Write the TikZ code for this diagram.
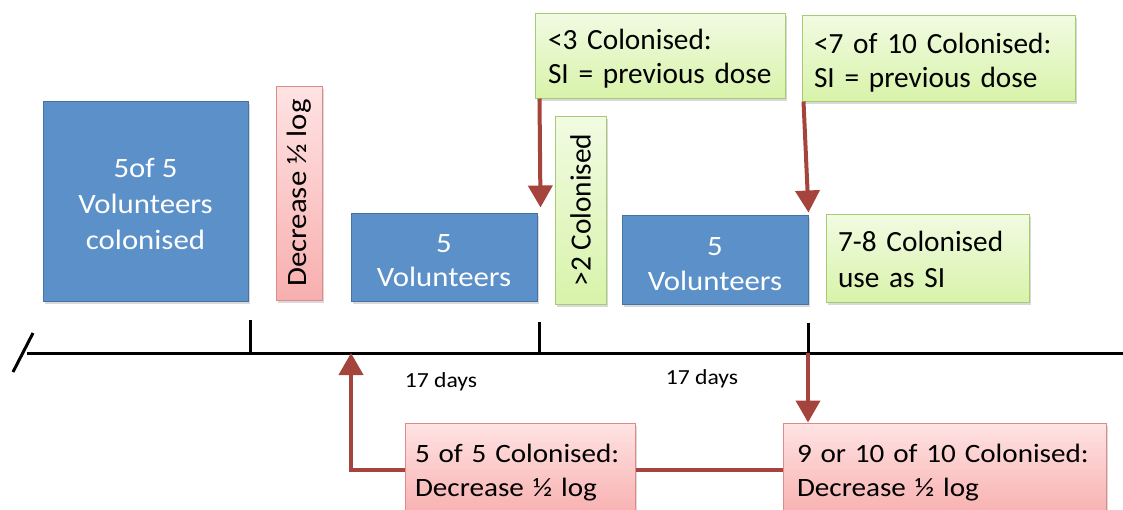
\documentclass[tikz,border=0pt]{standalone}
\usepackage{fontspec}
\setmainfont{Carlito}
\newfontfamily\widesans{Carlito}[FakeStretch=1.1]
\usetikzlibrary{arrows.meta,shadows,calc}

\definecolor{volblue}{HTML}{5B90C8}
\definecolor{volblueline}{HTML}{4673A6}
\definecolor{decred}{HTML}{F8AFAF}
\definecolor{decredtop}{HTML}{FFE3E3}
\definecolor{decredline}{HTML}{DE8A8A}
\definecolor{sigreen}{HTML}{D8F3AA}
\definecolor{sigreentop}{HTML}{F1FBE2}
\definecolor{sigreenline}{HTML}{A6CB75}
\definecolor{flow}{HTML}{A5443C}

% stacked lines, pushed down inside their box by half of #1
\newcommand{\boxlines}[3]{%
  \raisebox{0pt}[\dimexpr\height+#1\relax][\depth]{%
    \begin{tabular}{@{}#2@{}}#3\end{tabular}}}

\tikzset{
  softshadow/.style={drop shadow={shadow xshift=1.5pt,shadow yshift=-2.5pt,opacity=0.25,fill=black!60}},
  volbox/.style={draw=volblueline,line width=1pt,fill=volblue,text=white,
    font=\widesans\fontsize{28}{34}\selectfont,inner sep=0pt,softshadow},
  redbox/.style={draw=decredline,line width=1pt,top color=decredtop,bottom color=decred,
    font=\widesans\fontsize{26.5}{34}\selectfont,inner sep=0pt,softshadow},
  greenbox/.style={draw=sigreenline,line width=1pt,top color=sigreentop,bottom color=sigreen,
    font=\fontsize{29.3}{34}\selectfont,inner sep=0pt,softshadow},
  noteleft/.style={align=left,text width=#1},
  axis/.style={line width=3pt,black},
  tick/.style={line width=3pt,black},
  flowline/.style={draw=flow,line width=4pt},
  flowarrow/.style={flowline,-{Triangle[width=24pt,length=22pt]}},
  dayslabel/.style={font=\widesans\fontsize{21.5}{24}\selectfont,inner sep=0pt}
}

\begin{document}
\begin{tikzpicture}[x=1pt,y=-1pt]
  \useasboundingbox (0,0) rectangle (1123,509);
  \clip (0,0) rectangle (1123,509);

  % volunteer groups
  \node[volbox,minimum width=205pt,minimum height=200pt,
        font=\widesans\fontsize{28}{36}\selectfont] (v1) at (145.5,201)
    {\boxlines{11pt}{c}{5of 5\\Volunteers\\colonised}};
  \node[volbox,minimum width=186pt,minimum height=88pt] (v2) at (444,257)
    {\boxlines{10.4pt}{c}{5\\Volunteers}};
  \node[volbox,minimum width=186pt,minimum height=89pt,
        font=\widesans\fontsize{28}{35}\selectfont] (v3) at (715,259.5)
    {\boxlines{12pt}{c}{5\\Volunteers}};

  % vertical dose notes
  \node[redbox,rotate=90,minimum width=214pt,minimum height=46pt,
        font=\widesans\fontsize{28}{34}\selectfont] (dec) at (299,193)
    {Decrease ½ log};
  \node[greenbox,rotate=90,minimum width=188pt,minimum height=51pt] (gt2) at (580.5,210)
    {>2 Colonised};

  % challenge-dose rules
  \node[greenbox,minimum width=250pt,minimum height=85pt,noteleft=224pt] (lt3) at (660,55.5)
    {\boxlines{7.4pt}{l}{<3 Colonised:\\SI = previous dose}};
  \node[greenbox,minimum width=273pt,minimum height=86pt,noteleft=249pt] (lt7) at (938.5,58)
    {\boxlines{10.4pt}{l}{<7 of 10 Colonised:\\SI = previous dose}};
  \node[greenbox,minimum width=203pt,minimum height=88pt,noteleft=179pt,
        font=\fontsize{29.3}{35.6}\selectfont] (use) at (927.5,258)
    {\boxlines{9pt}{l}{7-8 Colonised\\use as SI}};

  \node[redbox,minimum width=230pt,minimum height=94pt,noteleft=210pt] (r1) at (520,470)
    {\boxlines{4.4pt}{l}{5 of 5 Colonised:\\Decrease ½ log}};
  \node[redbox,minimum width=323pt,minimum height=94pt,noteleft=295pt] (r2) at (944.5,470)
    {\boxlines{4.4pt}{l}{9 or 10 of 10 Colonised:\\Decrease ½ log}};

  % time axis
  \coordinate (a0) at (27,353);
  \coordinate (a1) at (1123,353);
  \coordinate (s0) at (13,372);
  \coordinate (s1) at (33,333);
  \coordinate (t1) at (250,353);
  \coordinate (t2) at (539,353);
  \coordinate (t3) at (808,353);
  \coordinate (up) at (351,353);
  \draw[axis] (a0) -- (a1);
  \draw[axis] (s0) -- (s1);
  \draw[tick] (t1) -- ++(0,-33);
  \draw[tick] (t2) -- ++(0,-31);
  \draw[tick] (t3) -- ++(0,-30);

  \node[dayslabel] (d1) at (441,382) {17 days};
  \node[dayslabel] (d2) at (702,379) {17 days};

  % decision arrows
  \draw[flowarrow] ([xshift=5pt]lt3.south west) -- ([xshift=3pt,yshift=5pt]v2.north east);
  \draw[flowarrow] ([xshift=2pt]lt7.south west) -- ([yshift=2pt]v3.north east);
  \draw[flowarrow] (t3) -- (t3 |- r2.north);
  \draw[flowline] (r1.east) -- (r2.west);
  \draw[flowarrow] (r1.west) -| (up);
\end{tikzpicture}
\end{document}
